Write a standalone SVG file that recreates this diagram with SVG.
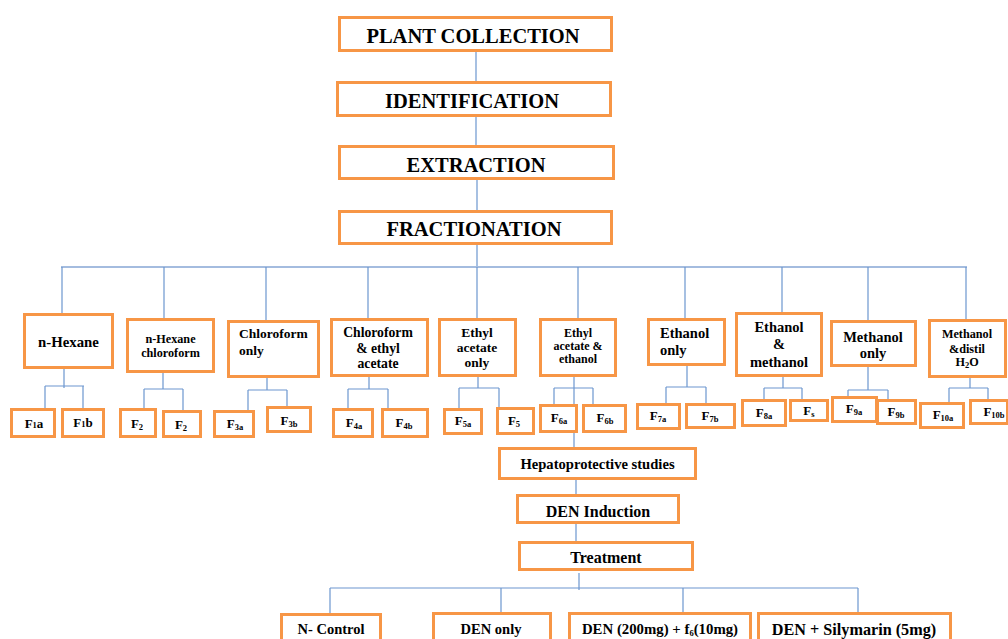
<svg xmlns="http://www.w3.org/2000/svg" width="1008" height="639" viewBox="0 0 1008 639">
<style>
.b{fill:#fff;stroke:#F79646;stroke-width:3}
.t{font-family:"Liberation Serif","Times New Roman",serif;font-weight:bold;fill:#000;text-anchor:middle}
.l{text-anchor:start}
.c line{stroke:#6C96CF;stroke-width:1.2}
.c line.h{stroke:#A4BCDF;stroke-width:2}
.s{font-size:8.5px}
.big{font-size:20.5px}
.f{font-size:13px}
</style>
<rect width="1008" height="639" fill="#fff"/>
<g class="c" id="connectors">
<line x1="476" y1="52" x2="476" y2="82"/>
<line x1="476" y1="117" x2="476" y2="146"/>
<line x1="477" y1="180" x2="477" y2="211"/>
<line x1="477" y1="245" x2="477" y2="267"/>
<line class="h" x1="61" y1="267" x2="967" y2="267"/>
<line x1="62" y1="267" x2="62" y2="314"/>
<line x1="164" y1="267" x2="164" y2="319"/>
<line x1="266" y1="267" x2="266" y2="321"/>
<line x1="368" y1="267" x2="368" y2="319"/>
<line x1="477" y1="267" x2="477" y2="319"/>
<line x1="578" y1="267" x2="578" y2="319"/>
<line x1="685" y1="267" x2="685" y2="319"/>
<line x1="782" y1="267" x2="782" y2="313"/>
<line x1="868" y1="267" x2="868" y2="321"/>
<line x1="966" y1="267" x2="966" y2="320"/>
<!-- branches -->
<line x1="64" y1="369" x2="64" y2="388"/>
<line x1="45" y1="386" x2="84" y2="386"/>
<line x1="45" y1="386" x2="45" y2="408"/>
<line x1="83" y1="386" x2="83" y2="408"/>
<line x1="163" y1="373" x2="163" y2="389"/>
<line x1="144" y1="389" x2="183" y2="389"/>
<line x1="144" y1="389" x2="144" y2="409"/>
<line x1="183" y1="389" x2="183" y2="411"/>
<line x1="267" y1="378" x2="267" y2="390"/>
<line x1="248" y1="390" x2="287" y2="390"/>
<line x1="248" y1="390" x2="248" y2="411"/>
<line x1="287" y1="390" x2="287" y2="407"/>
<line x1="369" y1="377" x2="369" y2="389"/>
<line x1="348" y1="389" x2="388" y2="389"/>
<line x1="348" y1="389" x2="348" y2="409"/>
<line x1="388" y1="389" x2="388" y2="409"/>
<line x1="478" y1="377" x2="478" y2="388"/>
<line x1="459" y1="388" x2="499" y2="388"/>
<line x1="459" y1="388" x2="459" y2="409"/>
<line x1="499" y1="388" x2="499" y2="408"/>
<line x1="574" y1="377" x2="574" y2="448"/>
<line x1="554" y1="388" x2="593" y2="388"/>
<line x1="554" y1="388" x2="554" y2="405"/>
<line x1="593" y1="388" x2="593" y2="405"/>
<line x1="687" y1="366" x2="687" y2="387"/>
<line x1="666" y1="387" x2="706" y2="387"/>
<line x1="666" y1="387" x2="666" y2="404"/>
<line x1="706" y1="387" x2="706" y2="404"/>
<line x1="783" y1="377" x2="783" y2="388"/>
<line x1="764" y1="388" x2="802" y2="388"/>
<line x1="764" y1="388" x2="764" y2="400"/>
<line x1="802" y1="388" x2="802" y2="400"/>
<line x1="868" y1="367" x2="868" y2="390"/>
<line x1="848" y1="390" x2="888" y2="390"/>
<line x1="848" y1="390" x2="848" y2="397"/>
<line x1="888" y1="390" x2="888" y2="400"/>
<line x1="970" y1="378" x2="970" y2="388"/>
<line x1="949" y1="388" x2="988" y2="388"/>
<line x1="949" y1="388" x2="949" y2="403"/>
<line x1="988" y1="388" x2="988" y2="400"/>
<!-- bottom -->
<line x1="576" y1="480" x2="576" y2="495"/>
<line x1="576" y1="524" x2="576" y2="542"/>
<line x1="579" y1="573" x2="579" y2="590"/>
<line x1="330" y1="588" x2="858" y2="588"/>
<line x1="330" y1="588" x2="330" y2="614"/>
<line x1="501" y1="588" x2="501" y2="613"/>
<line x1="683" y1="588" x2="683" y2="613"/>
<line x1="858" y1="588" x2="858" y2="613"/>
</g>
<g id="plant-collection"><rect class="b" x="339.5" y="17.5" width="272" height="33"/><text class="t big" x="473" y="43">PLANT COLLECTION</text></g>
<g id="identification"><rect class="b" x="337.5" y="82.5" width="273" height="33"/><text class="t big" x="472" y="108">IDENTIFICATION</text></g>
<g id="extraction"><rect class="b" x="339.5" y="146.5" width="274" height="32"/><text class="t big" x="476" y="172">EXTRACTION</text></g>
<g id="fractionation"><rect class="b" x="339.5" y="211.5" width="272" height="32"/><text class="t big" x="474" y="236">FRACTIONATION</text></g>

<g id="n-hexane"><rect class="b" x="24.5" y="314.5" width="88" height="53"/><text class="t" font-size="14.8" x="68.5" y="347">n-Hexane</text></g>
<g id="n-hexane-chloroform"><rect class="b" x="127.5" y="319.5" width="86" height="52"/><text class="t" font-size="12.2" x="170.5" y="343">n-Hexane</text><text class="t" font-size="12.2" x="170.5" y="357">chloroform</text></g>
<g id="chloroform-only"><rect class="b" x="228.5" y="321.5" width="90" height="55"/><text class="t l" font-size="13.5" x="239" y="338">Chloroform</text><text class="t l" font-size="13.5" x="239" y="355">only</text></g>
<g id="chloroform-ethyl-acetate"><rect class="b" x="331.5" y="319.5" width="96" height="56"/><text class="t" font-size="13.7" x="378" y="337">Chloroform</text><text class="t" font-size="13.7" x="378" y="353">&amp; ethyl</text><text class="t" font-size="13.7" x="378" y="368">acetate</text></g>
<g id="ethyl-acetate-only"><rect class="b" x="439.5" y="319.5" width="76" height="56"/><text class="t" font-size="13.5" x="477" y="337">Ethyl</text><text class="t" font-size="13.5" x="477" y="352">acetate</text><text class="t" font-size="13.5" x="477" y="367">only</text></g>
<g id="ethyl-acetate-ethanol"><rect class="b" x="540.5" y="319.5" width="75" height="56"/><text class="t" font-size="12" x="578" y="337">Ethyl</text><text class="t" font-size="12" x="578" y="350">acetate &amp;</text><text class="t" font-size="12" x="578" y="363">ethanol</text></g>
<g id="ethanol-only"><rect class="b" x="648.5" y="319.5" width="76" height="45"/><text class="t l" font-size="14.5" x="660" y="338">Ethanol</text><text class="t l" font-size="14.5" x="660" y="355">only</text></g>
<g id="ethanol-methanol"><rect class="b" x="736.5" y="313.5" width="85" height="62"/><text class="t" font-size="14.5" x="779" y="332">Ethanol</text><text class="t" font-size="14.5" x="779" y="349">&amp;</text><text class="t" font-size="14.5" x="779" y="367">methanol</text></g>
<g id="methanol-only"><rect class="b" x="831.5" y="321.5" width="84" height="44"/><text class="t" font-size="14.5" x="873" y="342">Methanol</text><text class="t" font-size="14.5" x="873" y="358">only</text></g>
<g id="methanol-distil-water"><rect class="b" x="929.5" y="320.5" width="76" height="56"/><text class="t" font-size="12.2" x="967" y="338">Methanol</text><text class="t" font-size="12.2" x="967" y="353">&amp;distil</text><text class="t" font-size="12.2" x="967" y="366">H<tspan class="s" dy="1.5">2</tspan><tspan dy="-1.5">O</tspan></text></g>

<g id="f1a"><rect class="b" x="11.5" y="409.5" width="43" height="27"/><text class="t f" x="34" y="428">F<tspan class="s">1</tspan>a</text></g>
<g id="f1b"><rect class="b" x="62.5" y="409.5" width="41" height="27"/><text class="t f" x="83" y="427">F<tspan class="s">1</tspan>b</text></g>
<g id="f2-1"><rect class="b" x="120.5" y="409.5" width="35" height="27"/><text class="t f" x="137" y="428">F<tspan class="s" dy="1.5">2</tspan></text></g>
<g id="f2-2"><rect class="b" x="163.5" y="411.5" width="37" height="25"/><text class="t f" x="181" y="429">F<tspan class="s" dy="1.5">2</tspan></text></g>
<g id="f3a"><rect class="b" x="214.5" y="411.5" width="39" height="25"/><text class="t f" x="235" y="428">F<tspan class="s" dy="1.5">3a</tspan></text></g>
<g id="f3b"><rect class="b" x="267.5" y="407.5" width="43" height="24"/><text class="t f" x="289" y="425">F<tspan class="s" dy="1.5">3b</tspan></text></g>
<g id="f4a"><rect class="b" x="333.5" y="409.5" width="39" height="27"/><text class="t f" x="354" y="427">F<tspan class="s" dy="1.5">4a</tspan></text></g>
<g id="f4b"><rect class="b" x="382.5" y="409.5" width="45" height="27"/><text class="t f" x="404" y="427">F<tspan class="s" dy="1.5">4b</tspan></text></g>
<g id="f5a"><rect class="b" x="444.5" y="409.5" width="37" height="24"/><text class="t f" x="463" y="425">F<tspan class="s" dy="1.5">5a</tspan></text></g>
<g id="f5"><rect class="b" x="497.5" y="408.5" width="36" height="25"/><text class="t f" x="514" y="425">F<tspan class="s" dy="1.5">5</tspan></text></g>
<g id="f6a"><rect class="b" x="540.5" y="405.5" width="36" height="26"/><text class="t f" x="559" y="422">F<tspan class="s" dy="1.5">6a</tspan></text></g>
<g id="f6b"><rect class="b" x="583.5" y="405.5" width="42" height="26"/><text class="t f" x="605" y="422">F<tspan class="s" dy="1.5">6b</tspan></text></g>
<g id="f7a"><rect class="b" x="637.5" y="404.5" width="42" height="24"/><text class="t f" x="658" y="420">F<tspan class="s" dy="1.5">7a</tspan></text></g>
<g id="f7b"><rect class="b" x="686.5" y="404.5" width="48" height="23"/><text class="t f" x="710" y="420">F<tspan class="s" dy="1.5">7b</tspan></text></g>
<g id="f8a"><rect class="b" x="742.5" y="400.5" width="43" height="25"/><text class="t f" x="764" y="417">F<tspan class="s" dy="1.5">8a</tspan></text></g>
<g id="fs"><rect class="b" x="790.5" y="400.5" width="37" height="20"/><text class="t f" x="809" y="415">F<tspan class="s" dy="1.5">s</tspan></text></g>
<g id="f9a"><rect class="b" x="832.5" y="397.5" width="44" height="24"/><text class="t f" x="854" y="413">F<tspan class="s" dy="1.5">9a</tspan></text></g>
<g id="f9b"><rect class="b" x="877.5" y="400.5" width="38" height="23"/><text class="t f" x="896" y="416">F<tspan class="s" dy="1.5">9b</tspan></text></g>
<g id="f10a"><rect class="b" x="920.5" y="403.5" width="43" height="24"/><text class="t f" x="943" y="419">F<tspan class="s" dy="1.5">10a</tspan></text></g>
<g id="f10b"><rect class="b" x="970.5" y="400.5" width="37" height="23"/><text class="t f" x="994" y="416">F<tspan class="s" dy="1.5">10b</tspan></text></g>

<g id="hepatoprotective"><rect class="b" x="499.5" y="448.5" width="196" height="30"/><text class="t" font-size="14.6" x="597.5" y="469">Hepatoprotective studies</text></g>
<g id="den-induction"><rect class="b" x="517.5" y="495.5" width="161" height="27"/><text class="t" font-size="16" x="598" y="517">DEN Induction</text></g>
<g id="treatment"><rect class="b" x="519.5" y="542.5" width="173" height="27"/><text class="t" font-size="16" x="606" y="563">Treatment</text></g>
<g id="n-control"><rect class="b" x="281.5" y="614.5" width="99" height="40"/><text class="t" font-size="14.5" x="331" y="634">N- Control</text></g>
<g id="den-only"><rect class="b" x="433.5" y="613.5" width="117" height="40"/><text class="t" font-size="14.5" x="491" y="634">DEN only</text></g>
<g id="den-f6"><rect class="b" x="569.5" y="613.5" width="181" height="40"/><text class="t" font-size="14.8" x="660" y="634">DEN (200mg) + f<tspan class="s" font-size="9.5" dy="1.5">6</tspan><tspan dy="-1.5">(10mg)</tspan></text></g>
<g id="den-silymarin"><rect class="b" x="758.5" y="613.5" width="192" height="40"/><text class="t" font-size="16.2" x="854" y="635">DEN + Silymarin (5mg)</text></g>
</svg>
